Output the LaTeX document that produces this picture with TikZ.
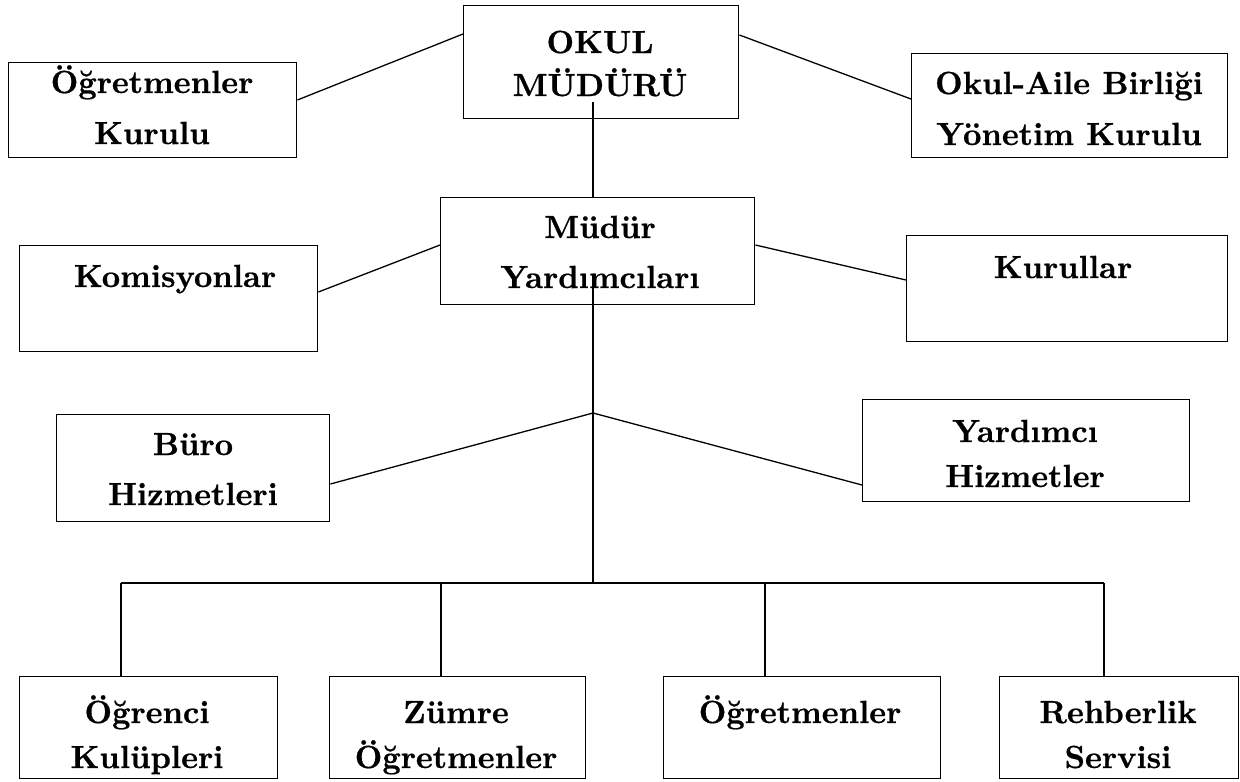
\documentclass[tikz,border=0pt]{standalone}
\usepackage{fontspec}
\newfontfamily\lblfont{lmroman10-bold.otf}[FakeBold=0.6]
\begin{document}
\begin{tikzpicture}[x=1pt,y=-1pt,
  box/.style={draw, line width=1.4pt, inner sep=0pt, anchor=north west},
  lbl/.style={anchor=base, inner sep=0pt, font=\fontsize{32}{38}\lblfont},
  conn/.style={line width=1.3pt}]
\useasboundingbox (0,0) rectangle (1240,782);
% boxes
\node[box, minimum width=288pt, minimum height=95pt] (A) at (8,62) {};
\node[box, minimum width=275pt, minimum height=113pt] (B) at (463,5) {};
\node[box, minimum width=316pt, minimum height=104pt] (C) at (911,53) {};
\node[box, minimum width=314pt, minimum height=107pt] (D) at (440,197) {};
\node[box, minimum width=298pt, minimum height=106pt] (E) at (19,245) {};
\node[box, minimum width=321pt, minimum height=106pt] (F) at (906,235) {};
\node[box, minimum width=273pt, minimum height=107pt] (G) at (56,414) {};
\node[box, minimum width=327pt, minimum height=102pt] (H) at (862,399) {};
\node[box, minimum width=258pt, minimum height=102pt] (I) at (19,676) {};
\node[box, minimum width=256pt, minimum height=102pt] (J) at (329,676) {};
\node[box, minimum width=277pt, minimum height=102pt] (K) at (663,676) {};
\node[box, minimum width=239pt, minimum height=102pt] (L) at (999,676) {};
% labels
\node[lbl] (A1) at (152,93) {Öğretmenler};
\node[lbl] (A2) at (152,144) {Kurulu};
\node[lbl] (B1) at (600,53) {OKUL};
\node[lbl] (B2) at (600,96) {MÜDÜRÜ};
\node[lbl] (C1) at (1069,94) {Okul-Aile Birliği};
\node[lbl] (C2) at (1069,145) {Yönetim Kurulu};
\node[lbl] (D1) at (600,238) {Müdür};
\node[lbl] (D2) at (600,288) {Yardımcıları};
\node[lbl] (E1) at (175,287) {Komisyonlar};
\node[lbl] (F1) at (1063,278) {Kurullar};
\node[lbl] (G1) at (193,455) {Büro};
\node[lbl] (G2) at (193,505) {Hizmetleri};
\node[lbl] (H1) at (1025,442) {Yardımcı};
\node[lbl] (H2) at (1025,487) {Hizmetler};
\node[lbl] (I1) at (147,723) {Öğrenci};
\node[lbl] (I2) at (147,768) {Kulüpleri};
\node[lbl] (J1) at (456,723) {Zümre};
\node[lbl] (J2) at (456,768) {Öğretmenler};
\node[lbl] (K1) at (800,723) {Öğretmenler};
\node[lbl] (L1) at (1118,723) {Rehberlik};
\node[lbl] (L2) at (1118,768) {Servisi};
% coordinates
\coordinate (b0) at (593,102);
\coordinate (d0) at (593,275);
\coordinate (jn) at (593,413);
\coordinate (bar) at (593,583);
\coordinate (barL) at (121,583);
\coordinate (barR) at (1104,583);
% connectors
\draw[conn] (A.east |- 0,100) -- (B.west |- 0,34);
\draw[conn] (B.east |- 0,35) -- (C.west |- 0,99);
\draw[conn] (b0) -- (b0 |- D.north);
\draw[conn] (D.west |- 0,245) -- (E.east |- 0,292);
\draw[conn] (D.east |- 0,245) -- (F.west |- 0,280);
\draw[conn] (d0) -- (jn) -- (bar);
\draw[conn] (jn) -- (G.east |- 0,484);
\draw[conn] (jn) -- (H.west |- 0,485);
\draw[conn] (barL) -- (barR);
\draw[conn] (barL) -- (barL |- I.north);
\draw[conn] (441,583) -- (441,583 |- J.north);
\draw[conn] (765,583) -- (765,583 |- K.north);
\draw[conn] (barR) -- (barR |- L.north);
\end{tikzpicture}
\end{document}
